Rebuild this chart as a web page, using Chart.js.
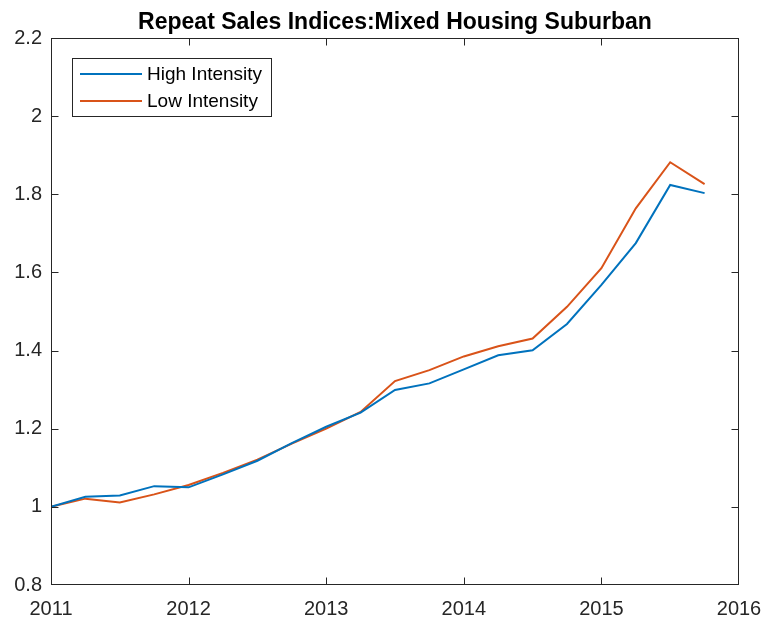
<!DOCTYPE html>
<html>
<head>
<meta charset="utf-8">
<script src="https://cdn.jsdelivr.net/npm/chart.js@4"></script>
<style>
  body { margin: 0; background: #fff; }
  #wrap { width: 770px; height: 621px; }
</style>
</head>
<body>
<div id="wrap"><canvas id="chart"></canvas></div>
<script>
// Quarterly index values
const quarters = [2011, 2011.25, 2011.5, 2011.75, 2012, 2012.25, 2012.5, 2012.75,
    2013, 2013.25, 2013.5, 2013.75, 2014, 2014.25, 2014.5, 2014.75,
    2015, 2015.25, 2015.5, 2015.75];
const highIntensity = [1.000, 1.026, 1.029, 1.053, 1.050, 1.083, 1.118, 1.163,
    1.205, 1.241, 1.299, 1.316, 1.352, 1.388, 1.401, 1.468,
    1.568, 1.675, 1.824, 1.803];
const lowIntensity = [1.000, 1.021, 1.011, 1.032, 1.056, 1.087, 1.121, 1.162,
    1.200, 1.243, 1.322, 1.350, 1.385, 1.411, 1.431, 1.512,
    1.611, 1.764, 1.882, 1.826];
const xTicks = [2011, 2012, 2013, 2014, 2015, 2016];
const yTicks = [0.8, 1, 1.2, 1.4, 1.6, 1.8, 2, 2.2];

const seriesNames = ["High Intensity", "Low Intensity"];
const seriesColors = ["#0072BD", "#D95319"];
const axisColor = "#262626";
const fontFamily = "'Liberation Sans', Arial, sans-serif";

function toPoints(values) {
    return quarters.map((q, i) => ({ x: q, y: values[i] }));
}

// Draws the box, the inward ticks, the title and the legend (MATLAB look)
const matlabFrame = {
    id: "matlabFrame",
    afterDatasetsDraw(chart) {
        let ctx = chart.ctx;
        let area = chart.chartArea;
        let xs = chart.scales.x;
        let ys = chart.scales.y;
        let tick = 7;
        let left = Math.round(area.left) + 0.5;
        let right = Math.round(area.right) - 0.5;
        let top = Math.round(area.top) + 0.5;
        let bottom = Math.round(area.bottom) - 0.5;

        ctx.save();
        ctx.strokeStyle = axisColor;
        ctx.lineWidth = 1;
        ctx.strokeRect(left, top, right - left, bottom - top);

        ctx.beginPath();
        xTicks.forEach(v => {
            let px = Math.min(Math.round(xs.getPixelForValue(v)) + 0.5, right);
            ctx.moveTo(px, bottom);
            ctx.lineTo(px, bottom - tick);
            ctx.moveTo(px, top);
            ctx.lineTo(px, top + tick);
        });
        yTicks.forEach(v => {
            let py = Math.min(Math.round(ys.getPixelForValue(v)) + 0.5, bottom);
            ctx.moveTo(left, py);
            ctx.lineTo(left + tick, py);
            ctx.moveTo(right, py);
            ctx.lineTo(right - tick, py);
        });
        ctx.stroke();

        // title
        ctx.fillStyle = "#000";
        ctx.font = "bold 23px " + fontFamily;
        ctx.textAlign = "center";
        ctx.textBaseline = "alphabetic";
        ctx.fillText("Repeat Sales Indices:Mixed Housing Suburban", (area.left + area.right) / 2, 29);

        // legend box
        let lx = 72, ly = 58, lw = 199, lh = 58;
        ctx.fillStyle = "#fff";
        ctx.fillRect(lx, ly, lw, lh);
        ctx.strokeStyle = axisColor;
        ctx.strokeRect(lx + 0.5, ly + 0.5, lw, lh);
        ctx.font = "19px " + fontFamily;
        ctx.textAlign = "left";
        ctx.textBaseline = "middle";
        seriesNames.forEach((name, i) => {
            let y = ly + 16 + i * 27;
            ctx.strokeStyle = seriesColors[i];
            ctx.lineWidth = 2;
            ctx.beginPath();
            ctx.moveTo(80, y);
            ctx.lineTo(142, y);
            ctx.stroke();
            ctx.fillStyle = "#000";
            ctx.fillText(name, 147, y + 1);
        });
        ctx.restore();
    }
};

function noOverhang(scale) {
    scale.paddingLeft = 0;
    scale.paddingRight = 0;
    scale.paddingTop = 0;
    scale.paddingBottom = 0;
}

let ctx = document.getElementById("chart").getContext("2d");
new Chart(ctx, {
    type: "line",
    data: {
        datasets: [
            { label: seriesNames[0], data: toPoints(highIntensity), borderColor: seriesColors[0] },
            { label: seriesNames[1], data: toPoints(lowIntensity), borderColor: seriesColors[1] }
        ]
    },
    options: {
        responsive: true,
        maintainAspectRatio: false,
        animation: false,
        devicePixelRatio: 1,
        elements: {
            line: { borderWidth: 2, tension: 0, fill: false },
            point: { radius: 0 }
        },
        layout: { padding: { left: 0, right: 31, top: 38, bottom: 0 } },
        plugins: {
            legend: { display: false },
            title: { display: false },
            tooltip: { enabled: false }
        },
        scales: {
            x: {
                type: "linear",
                min: 2011,
                max: 2016,
                afterBuildTicks: scale => { scale.ticks = xTicks.map(v => ({ value: v })); },
                afterFit: scale => { scale.height = 36; noOverhang(scale); },
                grid: { display: false, drawTicks: false },
                border: { display: false },
                ticks: {
                    padding: 12,
                    color: axisColor,
                    font: { family: fontFamily, size: 20 },
                    callback: v => String(v)
                }
            },
            y: {
                type: "linear",
                min: 0.8,
                max: 2.2,
                afterBuildTicks: scale => { scale.ticks = yTicks.map(v => ({ value: v })); },
                afterFit: scale => { scale.width = 51; noOverhang(scale); },
                grid: { display: false, drawTicks: false },
                border: { display: false },
                ticks: {
                    padding: 9,
                    color: axisColor,
                    font: { family: fontFamily, size: 20 },
                    callback: v => String(Math.round(v * 10) / 10)
                }
            }
        }
    },
    plugins: [matlabFrame]
});
</script>
</body>
</html>
